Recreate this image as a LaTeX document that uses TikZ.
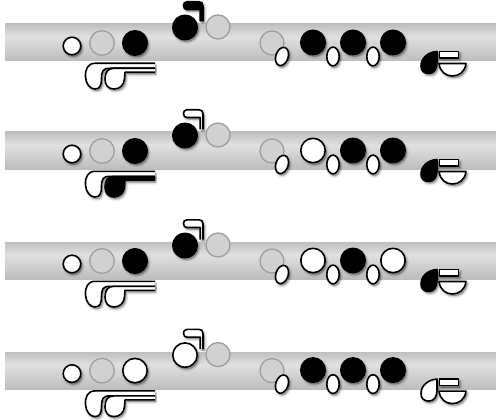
\documentclass[tikz,border=0pt]{standalone}
\definecolor{hole}{gray}{0.82}
\definecolor{ring}{gray}{0.62}
\pgfdeclareverticalshading{tube}{100bp}{color(0bp)=(black!26); color(25bp)=(black!26); color(58bp)=(black!12); color(75bp)=(black!25); color(100bp)=(black!25)}
\tikzset{
  x=1pt,y=-1pt,
  holeopen/.style={fill=hole,draw=ring,line width=1.3},
  inked/.style={draw=black,line width=1.6,line join=round},
}
% shadow + shape: #1 fill, #2 path
\newcommand{\shp}[2]{%
  \foreach \w/\o in {5/0.04,3.5/0.06,2/0.08,0.6/0.1}{%
    \fill[black,opacity=\o,draw=black,line width=\w,line join=round,shift={(1.5,2)}] #2;}%
  \path[inked,fill=#1] #2;}
\newcommand{\shc}[4]{\shp{#4}{(#1,#2) circle[radius=#3]}}
\newcommand{\sho}[4]{\shp{#4}{[rotate around={#3:(#1,#2)}] (#1,#2) ellipse[x radius=6.2,y radius=9.4]}}
\newcommand{\longkey}[2]{%
  \begin{scope}[shift={(0,#1)}]
  \shp{white}{(155,63.3) -- (95,63.3) .. controls (88,63.3) and (85,69) .. (85.5,77) .. controls (86,84) and (90,89) .. (95,89) .. controls (100,89) and (101.5,85) .. (101.5,79) .. controls (101.5,71) and (103,68.3) .. (110,68.3) -- (155,68.3)}
  \shp{#2}{(155,72.3) -- (125,72.3) -- (124.5,79) .. controls (124,85) and (120,89) .. (114,89) .. controls (108,89) and (105,85) .. (105,79) .. controls (105,72) and (108,68.3) .. (114,68.3) -- (155,68.3)}
  \end{scope}}
\newcommand{\upkey}[1]{%
  \shp{#1}{(203,21.5) -- (203,6) .. controls (203,3) and (201.5,1.8) .. (199,1.8) -- (187,1.8) .. controls (184.5,1.8) and (183.5,3.5) .. (183.5,5.5) .. controls (183.5,8.5) and (185,9.5) .. (187,9.5) -- (200.2,9.5) -- (200.2,21.5)}}
% #1 y offset, #2 third left, #3 upper circle, #4 upper key, #5,#6,#7 right, #8 leaf
\newcommand{\flutefig}[8]{%
  \begin{scope}[shift={(0,#1)}]
  \shc{72}{46}{8.8}{white}
  \path[holeopen] (102,43) circle[radius=12.3];
  \shc{135}{43}{12.2}{#2}
  \shc{185}{27.5}{12.2}{#3}
  \upkey{#4}
  \path[holeopen] (218,27) circle[radius=12];
  \path[holeopen] (272,43) circle[radius=12];
  \sho{282}{56.5}{-18}{white}
  \shc{313}{42.5}{12.2}{#5}
  \sho{333}{56.5}{0}{white}
  \shc{353}{42.5}{12.2}{#6}
  \sho{373}{56.5}{0}{white}
  \shc{393}{42.5}{12.2}{#7}
  \shp{#8}{(437,51.5) .. controls (428,52) and (421,58) .. (421,66) .. controls (421,71) and (424,73.5) .. (429,73.5) .. controls (434,73.5) and (437,69) .. (437,63) -- cycle}
  \shp{white}{(439.5,51.5) rectangle (458.5,58)}
  \shp{white}{(439,63.5) -- (466,63.5) .. controls (465,72) and (459,76) .. (452.5,76) .. controls (446,76) and (440,72) .. (439,63.5) -- cycle}
  \end{scope}}
\newcommand{\tubebar}[1]{%
  \path[shading=tube,shift={(0,#1)}] (5,24) rectangle (496,61);}
\begin{document}
\begin{tikzpicture}
\useasboundingbox (0,0) rectangle (496,420);
\tubebar{0}\tubebar{108}\tubebar{218}\tubebar{328}
\flutefig{0}{black}{black}{black}{black}{black}{black}{black}
\longkey{0}{white}
\flutefig{108}{black}{black}{white}{white}{black}{black}{black}
\longkey{108}{black}
\flutefig{218}{black}{black}{white}{white}{black}{white}{black}
\longkey{218}{white}
\flutefig{327.6}{white}{white}{white}{black}{black}{black}{white}
\longkey{327.6}{white}
\end{tikzpicture}
\end{document}
